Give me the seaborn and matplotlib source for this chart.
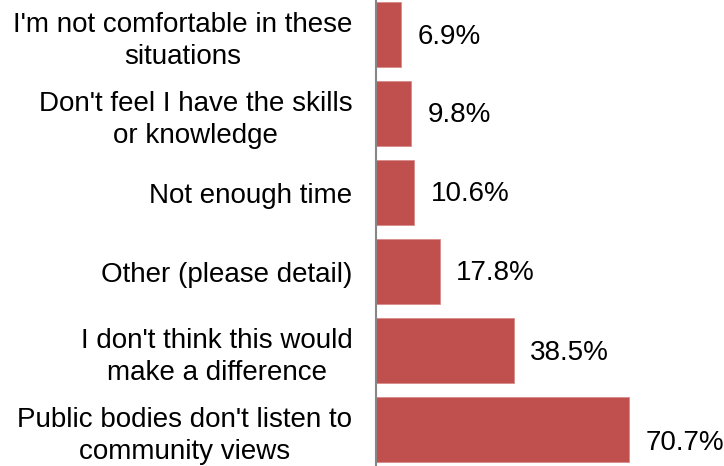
import matplotlib
matplotlib.use("Agg")
import matplotlib.pyplot as plt
import seaborn as sns
import pandas as pd

categories = [
    "I'm not comfortable in these\nsituations",
    "Don't feel I have the skills\nor knowledge",
    "Not enough time",
    "Other (please detail)",
    "I don't think this would\nmake a difference",
    "Public bodies don't listen to\ncommunity views",
]
values = [6.9, 9.8, 10.6, 17.8, 38.5, 70.7]
value_labels = ["6.9%", "9.8%", "10.6%", "17.8%", "38.5%", "70.7%"]

sns.set_style("white")
plt.rcParams["font.family"] = ["Liberation Sans", "DejaVu Sans"]

df = pd.DataFrame({"reason": categories, "pct": values})

fig = plt.figure(figsize=(7.24, 4.66), dpi=100)
ax = fig.add_axes([376 / 724, 0, 1 - 376 / 724, 1])
sns.barplot(data=df, y="reason", x="pct", orient="h", color="#C0504D",
            saturation=1, width=0.825, ax=ax, edgecolor="#D98B89", linewidth=0.6)

ax.set_xlim(0, 97.4)
ax.set_ylim(5.462, -0.437)
ax.set_xlabel("")
ax.set_ylabel("")
ax.set_xticks([])
for s in ["top", "right", "bottom"]:
    ax.spines[s].set_visible(False)
ax.spines["left"].set_color("#868686")
ax.spines["left"].set_linewidth(1.5)
ax.tick_params(axis="y", length=0, pad=17, labelsize=20)
for t in ax.get_yticklabels():
    t.set_multialignment("center")
    t.set_linespacing(1.3)
    t.set_color("black")

yoff = [-2, -1, -1, -1, -2, -10]
for i, (v, lab) in enumerate(zip(values, value_labels)):
    ax.annotate(lab, xy=(v, i), xytext=(12, yoff[i]), textcoords="offset points",
                ha="left", va="center", fontsize=20, color="black")

fig.savefig("out.png", dpi=100)
